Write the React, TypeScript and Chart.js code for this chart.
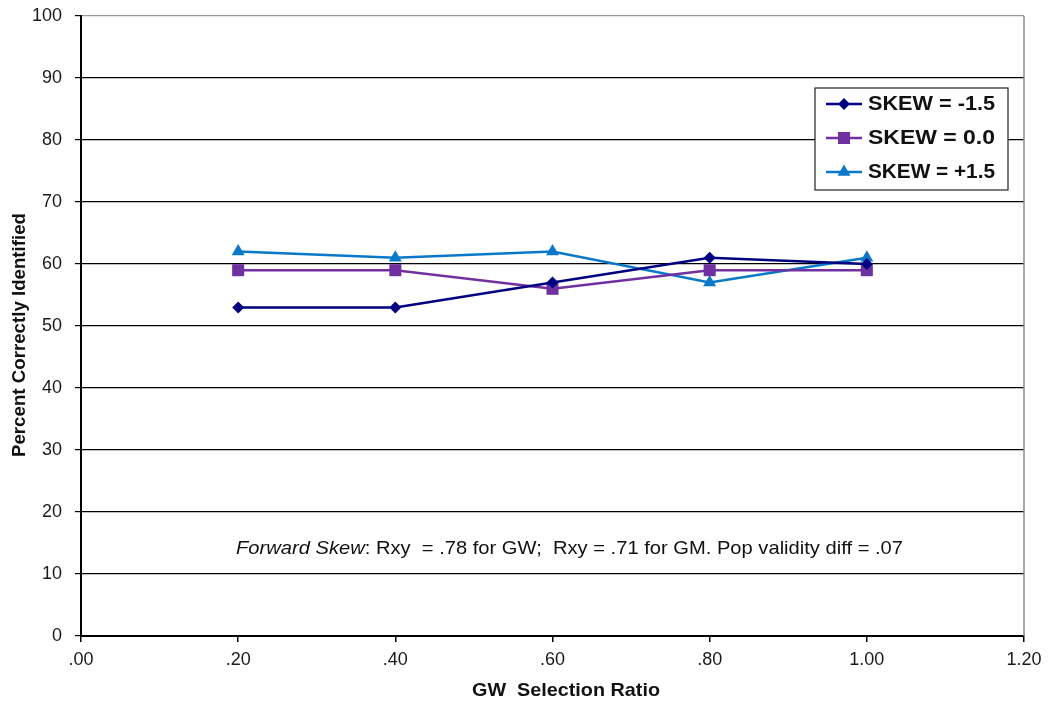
import React, { useEffect, useRef } from "react";
import { Chart, registerables } from "chart.js";

Chart.register(...registerables);

const ratios = [0.2, 0.4, 0.6, 0.8, 1.0];
const skewNeg = [53, 53, 57, 61, 60];
const skewZero = [59, 59, 56, 59, 59];
const skewPos = [62, 61, 62, 57, 61];
const seriesLabels = ["SKEW = -1.5", "SKEW = 0.0", "SKEW = +1.5"];
const seriesColors = ["#000080", "#7030A0", "#0A78C8"];
const seriesMarkers = ["rectRot", "rect", "triangle"];
const markerSizes = [6, 8.5, 7.5];
const yTitle = "Percent Correctly Identified";
const xTitle = "GW  Selection Ratio";
const noteItalic = "Forward Skew";
const noteRest = ": Rxy  = .78 for GW;  Rxy = .71 for GM. Pop validity diff = .07";

const FONT = "'Liberation Sans', Arial, sans-serif";

// Draws text runs squeezed horizontally to a given total width.
function fitText(
  ctx: CanvasRenderingContext2D,
  parts: { text: string; font: string }[],
  x: number,
  y: number,
  width: number
) {
  let natural = 0;
  for (const p of parts) {
    ctx.font = p.font;
    natural += ctx.measureText(p.text).width;
  }
  const s = width / natural;
  ctx.save();
  ctx.translate(x, y);
  ctx.scale(s, 1);
  ctx.textBaseline = "middle";
  ctx.textAlign = "left";
  let cx = 0;
  for (const p of parts) {
    ctx.font = p.font;
    ctx.fillText(p.text, cx, 0);
    cx += ctx.measureText(p.text).width;
  }
  ctx.restore();
}

// Legend marker shapes, same geometry as the chart's point styles.
function drawMarker(ctx: CanvasRenderingContext2D, style: string, r: number, x: number, y: number) {
  ctx.beginPath();
  if (style === "rectRot") {
    ctx.moveTo(x - r, y);
    ctx.lineTo(x, y - r);
    ctx.lineTo(x + r, y);
    ctx.lineTo(x, y + r);
  } else if (style === "rect") {
    const h = r * Math.SQRT1_2;
    ctx.rect(x - h, y - h, 2 * h, 2 * h);
  } else {
    const a = (Math.PI * 2) / 3;
    ctx.moveTo(x, y - r);
    ctx.lineTo(x + Math.sin(a) * r, y - Math.cos(a) * r);
    ctx.lineTo(x - Math.sin(a) * r, y - Math.cos(a) * r);
  }
  ctx.closePath();
  ctx.fill();
}

const overlayPlugin = {
  id: "overlay",
  afterDraw(chart: any) {
    const ctx: CanvasRenderingContext2D = chart.ctx;
    const area = chart.chartArea;
    ctx.save();
    // right frame edge
    ctx.strokeStyle = "#8c8c8c";
    ctx.lineWidth = 1.5;
    ctx.beginPath();
    ctx.moveTo(area.right, area.top);
    ctx.lineTo(area.right, area.bottom);
    ctx.stroke();

    ctx.fillStyle = "#111";
    // y axis title
    ctx.save();
    ctx.translate(20, 335);
    ctx.rotate(-Math.PI / 2);
    fitText(ctx, [{ text: yTitle, font: `bold 19px ${FONT}` }], -122, 0, 244);
    ctx.restore();
    // x axis title
    fitText(ctx, [{ text: xTitle, font: `bold 19px ${FONT}` }], 472, 691, 188);
    // note
    fitText(
      ctx,
      [
        { text: noteItalic, font: `italic 19px ${FONT}` },
        { text: noteRest, font: `19px ${FONT}` },
      ],
      236,
      549,
      667
    );

    // legend box
    const lx = 815, ly = 88, lw = 193, lh = 102;
    ctx.fillStyle = "#fff";
    ctx.fillRect(lx, ly, lw, lh);
    ctx.strokeStyle = "#222";
    ctx.lineWidth = 1.2;
    ctx.strokeRect(lx, ly, lw, lh);
    const rows = [104, 138, 172];
    for (let i = 0; i < 3; i++) {
      const yy = rows[i];
      ctx.strokeStyle = seriesColors[i];
      ctx.lineWidth = 2.5;
      ctx.beginPath();
      ctx.moveTo(826, yy);
      ctx.lineTo(862, yy);
      ctx.stroke();
      ctx.fillStyle = seriesColors[i];
      drawMarker(ctx, seriesMarkers[i], markerSizes[i], 844, yy);
      ctx.fillStyle = "#111";
      fitText(ctx, [{ text: seriesLabels[i], font: `bold 21px ${FONT}` }], 868, yy, 127);
    }
    ctx.restore();
  },
};

export default function App() {
  const ref = useRef<HTMLCanvasElement | null>(null);

  useEffect(() => {
    if (!ref.current) return;
    const series = [skewNeg, skewZero, skewPos];
    const chart = new Chart(ref.current, {
      type: "line",
      data: {
        datasets: series.map((vals, i) => ({
          label: seriesLabels[i],
          data: ratios.map((r, j) => ({ x: r, y: vals[j] })),
          borderColor: seriesColors[i],
          backgroundColor: seriesColors[i],
          borderWidth: 2.5,
          pointStyle: seriesMarkers[i] as any,
          pointRadius: markerSizes[i],
          pointBorderWidth: 0,
          tension: 0,
        })),
      },
      options: {
        responsive: false,
        animation: false,
        layout: { padding: { left: 0, top: 16, right: 24, bottom: 0 } },
        plugins: { legend: { display: false }, tooltip: { enabled: false } },
        scales: {
          x: {
            type: "linear",
            min: 0,
            max: 1.2,
            afterFit: (s: any) => {
              s.height = 70;
              s.paddingRight = 0;
              s.paddingLeft = 0;
            },
            ticks: {
              stepSize: 0.2,
              padding: 7,
              color: "#1a1a1a",
              font: { family: FONT, size: 18 },
              maxRotation: 0,
              callback: (v: any) => Number(v).toFixed(2).replace(/^0/, ""),
            },
            grid: {
              drawOnChartArea: false,
              tickLength: 6,
              tickColor: "#000",
              lineWidth: 1.5,
            },
            border: { color: "#000", width: 2 },
          },
          y: {
            min: 0,
            max: 100,
            afterFit: (s: any) => {
              s.width = 81;
              s.paddingTop = 0;
              s.paddingBottom = 0;
            },
            ticks: {
              stepSize: 10,
              padding: 13,
              color: "#1a1a1a",
              font: { family: FONT, size: 18 },
            },
            grid: {
              color: (c: any) => (c.tick && c.tick.value === 100 ? "#9a9a9a" : "#000"),
              tickColor: "#000",
              tickLength: 6,
              lineWidth: 1.2,
            },
            border: { color: "#000", width: 2 },
          },
        },
      },
      plugins: [overlayPlugin],
    });
    return () => chart.destroy();
  }, []);

  return (
    <div style={{ position: "absolute", left: 0, top: 0, width: 1048, height: 706, background: "#fff" }}>
      <canvas ref={ref} width={1048} height={706} />
    </div>
  );
}
